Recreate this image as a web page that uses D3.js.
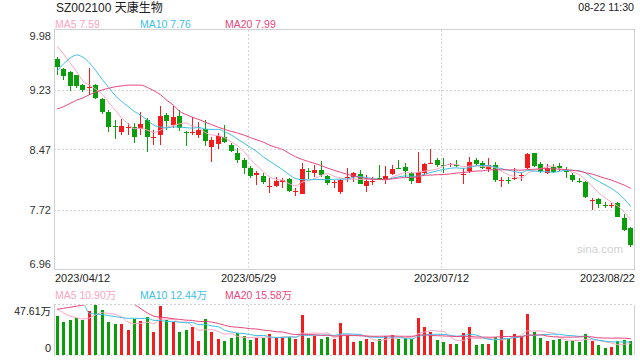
<!DOCTYPE html>
<html><head><meta charset="utf-8">
<script src="https://cdn.jsdelivr.net/npm/d3@7"></script>
<style>
body{margin:0;background:#fff}
svg{display:block}
text{font-family:"Liberation Sans",Arial,"Noto Sans CJK SC",sans-serif}
</style>
</head><body>
<svg id="chart" width="640" height="360"></svg>
<script>
// ---------------- data ----------------
const title = "SZ002100 天康生物";
const timeStamp = "08-22 11:30";
const dates = [
"2023/04/12","2023/04/13","2023/04/14","2023/04/17","2023/04/18","2023/04/19","2023/04/20","2023/04/21","2023/04/24","2023/04/25","2023/04/26","2023/04/27","2023/04/28",
"2023/05/04","2023/05/05","2023/05/08","2023/05/09","2023/05/10","2023/05/11","2023/05/12","2023/05/15","2023/05/16","2023/05/17","2023/05/18","2023/05/19","2023/05/22","2023/05/23","2023/05/24","2023/05/25","2023/05/26","2023/05/29","2023/05/30","2023/05/31",
"2023/06/01","2023/06/02","2023/06/05","2023/06/06","2023/06/07","2023/06/08","2023/06/09","2023/06/12","2023/06/13","2023/06/14","2023/06/15","2023/06/16","2023/06/19","2023/06/20","2023/06/21","2023/06/26","2023/06/27","2023/06/28","2023/06/29","2023/06/30",
"2023/07/03","2023/07/04","2023/07/05","2023/07/06","2023/07/07","2023/07/10","2023/07/11","2023/07/12","2023/07/13","2023/07/14","2023/07/17","2023/07/18","2023/07/19","2023/07/20","2023/07/21","2023/07/24","2023/07/25","2023/07/26","2023/07/27","2023/07/28","2023/07/31",
"2023/08/01","2023/08/02","2023/08/03","2023/08/04","2023/08/07","2023/08/08","2023/08/09","2023/08/10","2023/08/11","2023/08/14","2023/08/15","2023/08/16","2023/08/17","2023/08/18","2023/08/21","2023/08/22"];

const open = [9.61,9.477,9.45,9.405,9.28,9.25,9.28,9.11,8.946,8.76,
8.695,8.745,8.758,8.724,8.842,8.62,8.649,8.905,8.779,8.892,
8.686,8.682,8.653,8.724,8.497,8.535,8.632,8.527,8.43,8.338,
8.233,8.145,8.137,8.012,8.011,8.065,8.095,7.948,7.91,8.195,
8.179,8.212,8.137,8.053,7.939,8.12,8.12,8.162,8.015,8.065,
8.11,8.095,8.162,8.233,8.246,8.178,8.053,8.17,8.29,8.338,
8.27,8.284,8.28,8.154,8.204,8.338,8.296,8.22,8.275,8.086,
8.09,8.107,8.145,8.233,8.422,8.288,8.17,8.254,8.262,8.195,
8.149,8.069,8.065,7.834,7.843,7.775,7.77,7.801,7.604,7.478];
const high = [9.63,9.50,9.46,9.41,9.29,9.50,9.30,9.12,8.967,8.842,
8.85,8.80,8.80,8.946,8.863,8.716,9.018,8.934,9.018,8.967,
8.707,8.875,8.812,8.841,8.632,8.674,8.778,8.548,8.485,8.359,
8.262,8.20,8.179,8.107,8.12,8.107,8.107,7.98,8.296,8.233,
8.275,8.33,8.149,8.086,8.095,8.233,8.19,8.212,8.149,8.128,
8.275,8.262,8.275,8.338,8.296,8.19,8.443,8.304,8.472,8.359,
8.359,8.304,8.338,8.233,8.38,8.359,8.33,8.359,8.317,8.128,
8.12,8.233,8.178,8.43,8.43,8.317,8.288,8.288,8.296,8.246,
8.17,8.107,8.078,7.855,7.855,7.814,7.80,7.814,7.658,7.499];
const low = [9.405,9.34,9.21,9.24,9.19,9.15,9.10,8.92,8.695,8.598,
8.653,8.653,8.548,8.653,8.443,8.527,8.527,8.716,8.737,8.707,
8.514,8.653,8.61,8.514,8.317,8.472,8.548,8.443,8.296,8.162,
8.107,8.023,8.036,7.919,7.994,7.982,7.94,7.885,7.91,8.095,
8.12,8.12,8.023,7.981,7.91,8.065,8.065,8.032,7.939,8.023,
8.086,8.032,8.149,8.22,8.128,8.036,8.044,8.149,8.288,8.246,
8.17,8.246,8.254,8.032,8.17,8.262,8.22,8.191,8.065,7.994,
8.036,8.086,8.078,8.23,8.254,8.17,8.162,8.17,8.204,8.107,
8.065,8.044,7.855,7.709,7.73,7.73,7.73,7.617,7.449,7.247];
const close = [9.506,9.39,9.27,9.27,9.22,9.26,9.12,8.945,8.758,8.75,
8.766,8.75,8.632,8.791,8.624,8.628,8.892,8.833,8.875,8.737,
8.682,8.695,8.715,8.581,8.59,8.64,8.56,8.455,8.338,8.233,
8.137,8.17,8.065,8.015,8.078,8.086,7.952,7.952,8.225,8.19,
8.212,8.149,8.053,8.058,8.086,8.128,8.17,8.032,8.078,8.07,
8.107,8.137,8.225,8.229,8.199,8.078,8.19,8.288,8.296,8.275,
8.267,8.29,8.275,8.158,8.317,8.288,8.233,8.275,8.086,8.09,
8.086,8.112,8.15,8.413,8.262,8.204,8.233,8.191,8.233,8.19,
8.086,8.065,7.868,7.838,7.78,7.77,7.775,7.625,7.457,7.268];
// volume in 万 (10k shares)
const volume = [37.5,31.7,33.3,35.5,33.3,42.2,47.61,42.8,31.7,29.5,
29.5,23.8,34.3,32.7,35.9,22.2,46.7,33.3,31.7,22.2,
23.8,26.3,13.6,34.3,22.2,15.2,13.6,16.5,20.6,18.1,
14.3,15.9,15.9,20.0,16.8,16.8,16.8,15.2,38.1,16.2,
18.1,15.2,17.5,15.2,30.8,19.0,12.7,13.6,15.2,12.7,
15.2,18.1,19.0,15.2,16.2,15.2,35.5,27.0,22.2,14.3,
12.7,10.5,10.5,21.3,27.0,9.5,10.5,10.5,17.5,23.8,
15.2,20.0,17.5,39.0,22.2,16.2,13.3,14.3,15.2,13.3,
13.3,12.7,20.0,13.3,9.5,6.7,7.3,13.3,14.3,13.3];

// moving-average values for the first days (history before window)
const ma5Head  = [9.77,9.67,9.56,9.45];
const ma10Head = [9.46,9.55,9.62,9.66,9.63,9.56,9.46,9.35,9.25];
const ma20Head = [8.98,9.01,9.05,9.09,9.12,9.16,9.19,9.22,9.24,9.26,9.27,9.28,9.28,9.28,9.25,9.21,9.16,9.09,9.03];
const volMa5Head  = [44,40,37,35.5];
const volMa10Head = [55,55,54,52,50,39.5,39,38.5,37.5];
const volMa20Head = [43.5,44.5,45.5,46.5,47.5,49,50,51,51,51,50.5,50,48,44,40,37,36,35.5,34.5];

const maNames = ["MA5","MA10","MA20"];
const maLegendValues = ["7.59","7.76","7.99"];
const volLegendValues = ["10.90万","12.44万","15.58万"];
const yTickValues = [9.98,9.225,8.47,7.715,6.96];
const yTickLabels = ["9.98","9.23","8.47","7.72","6.96"];
const xTickDates = ["2023/04/12","2023/05/29","2023/07/12","2023/08/22"];
const volTickLabel = "47.61万";

// ---------------- drawing ----------------
const RED = "#f31d1d", GREEN = "#0a9e0a";
const maColors = ["#f9a6c3","#3dc0e2","#e9467c"];
const L = 54, R = 634, T = 29.5, B = 269.5, VT = 305, VB = 355;

const svg = d3.select("#chart");
const x = d3.scaleBand().domain(dates).range([L, R]).paddingInner(0.22).paddingOuter(0.11);
const bw = x.bandwidth();
const cx = d => x(d) + bw / 2;
const y = d3.scaleLinear().domain([6.96, 9.98]).range([B, T]);
const yv = d3.scaleLinear().domain([0, d3.max(volume)]).range([VB, VT]);

function movingAvg(vals, n, head) {
  return vals.map((v, i) => i < n - 1 ? head[i] : d3.mean(vals.slice(i - n + 1, i + 1)));
}
const priceMA = [movingAvg(close, 5, ma5Head), movingAvg(close, 10, ma10Head), movingAvg(close, 20, ma20Head)];
const volMA = [movingAvg(volume, 5, volMa5Head), movingAvg(volume, 10, volMa10Head), movingAvg(volume, 20, volMa20Head)];

const defs = svg.append("defs");
defs.append("clipPath").attr("id", "clipMain").append("rect").attr("x", L).attr("y", T).attr("width", R - L).attr("height", B - T);
defs.append("clipPath").attr("id", "clipVol").append("rect").attr("x", L).attr("y", VT).attr("width", R - L).attr("height", VB - VT);

// header
svg.append("text").attr("x", 56).attr("y", 12).attr("font-size", 12).attr("fill", "#222").text(title);
svg.append("text").attr("x", R).attr("y", 11).attr("font-size", 10.6).attr("fill", "#222").attr("text-anchor", "end").text(timeStamp);
const legX = [55, 140, 225];
maNames.forEach((n, i) => {
  svg.append("text").attr("x", legX[i]).attr("y", 27.5).attr("font-size", 10.5).attr("fill", maColors[i]).text(n + " " + maLegendValues[i]);
  svg.append("text").attr("x", legX[i]).attr("y", 298.5).attr("font-size", 10.5).attr("fill", maColors[i]).text(n + " " + volLegendValues[i]);
});

// grid - main
const grid = svg.append("g").attr("shape-rendering", "crispEdges");
grid.selectAll("line.h").data(yTickValues.slice(1, -1)).join("line")
  .attr("x1", L).attr("x2", R).attr("y1", d => Math.round(y(d)) + 0.5).attr("y2", d => Math.round(y(d)) + 0.5)
  .attr("stroke", "#d6d6d6").attr("stroke-dasharray", "2,2");
const midDates = xTickDates.slice(1, -1);
grid.selectAll("line.v").data(midDates).join("line")
  .attr("x1", d => Math.round(x(d)) + 0.5).attr("x2", d => Math.round(x(d)) + 0.5).attr("y1", T).attr("y2", B)
  .attr("stroke", "#d6d6d6").attr("stroke-dasharray", "2,2");
grid.selectAll("line.vv").data(midDates).join("line")
  .attr("x1", d => Math.round(x(d)) + 0.5).attr("x2", d => Math.round(x(d)) + 0.5).attr("y1", VT).attr("y2", VB)
  .attr("stroke", "#d6d6d6").attr("stroke-dasharray", "2,2");
grid.append("rect").attr("x", L + 0.5).attr("y", T).attr("width", R - L).attr("height", B - T)
  .attr("fill", "none").attr("stroke", "#cfcfcf");
// volume frame
grid.append("line").attr("x1", L).attr("x2", R).attr("y1", VT - 0.5).attr("y2", VT - 0.5).attr("stroke", "#cfcfcf").attr("stroke-dasharray", "2,2");
grid.append("line").attr("x1", L).attr("x2", R).attr("y1", VB + 0.5).attr("y2", VB + 0.5).attr("stroke", "#dcdcdc").attr("stroke-dasharray", "2,2");
grid.append("line").attr("x1", L + 0.5).attr("x2", L + 0.5).attr("y1", VT - 0.5).attr("y2", VB).attr("stroke", "#cfcfcf");
grid.append("line").attr("x1", R + 0.5).attr("x2", R + 0.5).attr("y1", VT - 0.5).attr("y2", VB).attr("stroke", "#cfcfcf");

// watermark
svg.append("text").attr("x", 623).attr("y", 253).attr("font-size", 11.5).attr("fill", "#d2d2d2").attr("text-anchor", "end").text("sina.com");

// y axis
const yAxis = svg.append("g").attr("transform", `translate(${L},0)`)
  .call(d3.axisLeft(y).tickValues(yTickValues).tickFormat((d, i) => yTickLabels[i]).tickSize(0).tickPadding(3));
yAxis.select(".domain").remove();
yAxis.selectAll("text").attr("font-size", 11).attr("fill", "#333").attr("font-family", null)
  .attr("dy", (d, i) => i === 0 ? "0.95em" : (i === yTickValues.length - 1 ? "-0.2em" : "0.32em"));

// x labels
svg.selectAll("text.xl").data(xTickDates).join("text")
  .attr("x", (d, i) => i === 0 ? L + 1 : (i === xTickDates.length - 1 ? R + 1 : Math.round(x(d)) + 0.5))
  .attr("y", 282).attr("font-size", 11).attr("fill", "#222")
  .attr("text-anchor", (d, i) => i === 0 ? "start" : (i === xTickDates.length - 1 ? "end" : "middle"))
  .text(d => d);

// volume axis labels
svg.append("text").attr("x", 51).attr("y", 314.5).attr("font-size", 10.5).attr("fill", "#222").attr("text-anchor", "end").text(volTickLabel);
svg.append("text").attr("x", 51).attr("y", 352).attr("font-size", 11).attr("fill", "#222").attr("text-anchor", "end").text(yv.ticks(1)[0]);

// candles
const idx = d3.range(dates.length);
const colorOf = i => close[i] >= open[i] ? RED : GREEN;
const cg = svg.append("g").attr("clip-path", "url(#clipMain)").attr("shape-rendering", "crispEdges");
cg.selectAll("line.w").data(idx).join("line")
  .attr("x1", i => Math.floor(cx(dates[i])) + 0.5).attr("x2", i => Math.floor(cx(dates[i])) + 0.5)
  .attr("y1", i => y(high[i])).attr("y2", i => y(low[i]))
  .attr("stroke", colorOf).attr("stroke-width", 1);
cg.selectAll("rect.b").data(idx).join("rect")
  .attr("x", i => Math.floor(cx(dates[i])) + 0.5 - 2.5).attr("width", 5)
  .attr("y", i => y(Math.max(open[i], close[i])))
  .attr("height", i => Math.max(1, Math.abs(y(open[i]) - y(close[i]))))
  .attr("fill", colorOf);

// price MA lines
const lg = svg.append("g").attr("clip-path", "url(#clipMain)");
priceMA.forEach((m, k) => {
  lg.append("path").datum(idx)
    .attr("d", d3.line().x(i => cx(dates[i])).y(i => y(m[i])).curve(d3.curveMonotoneX))
    .attr("fill", "none").attr("stroke", maColors[k]).attr("stroke-width", 1);
});

// volume bars
const vg = svg.append("g").attr("clip-path", "url(#clipVol)").attr("shape-rendering", "crispEdges");
vg.selectAll("rect.v").data(idx).join("rect")
  .attr("x", i => Math.floor(cx(dates[i])) + 0.5 - 1.7).attr("width", 3.4)
  .attr("y", i => yv(volume[i])).attr("height", i => yv(0) - yv(volume[i]))
  .attr("fill", colorOf);
const vl = svg.append("g").attr("clip-path", "url(#clipVol)");
volMA.forEach((m, k) => {
  vl.append("path").datum(idx)
    .attr("d", d3.line().x(i => cx(dates[i])).y(i => yv(m[i])).curve(d3.curveMonotoneX))
    .attr("fill", "none").attr("stroke", maColors[k]).attr("stroke-width", 1);
});
</script>
</body></html>
